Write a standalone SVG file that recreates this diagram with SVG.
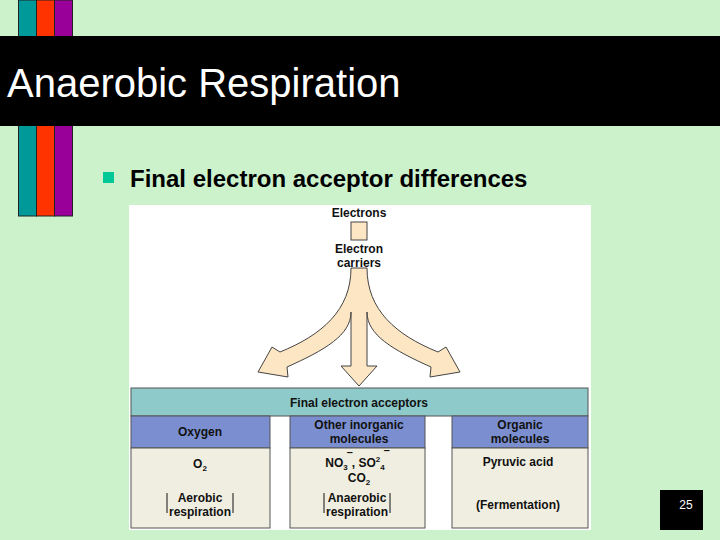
<svg xmlns="http://www.w3.org/2000/svg" width="720" height="540" viewBox="0 0 720 540">
<style>
.b{font-family:"Liberation Sans",Arial,sans-serif;font-weight:bold;font-size:12px;fill:#111;text-anchor:middle}
.arr{fill:#fce6c4;stroke:#444;stroke-width:1}
</style>
<rect width="720" height="540" fill="#ccf2cc"/>
<g id="bars" stroke="#222" stroke-width="1">
<rect x="18.5" y="0" width="18" height="216" fill="#009999"/>
<rect x="36.5" y="0" width="18" height="216" fill="#ff3300"/>
<rect x="54.5" y="0" width="18" height="216" fill="#990099"/>
</g>
<rect x="0" y="36" width="720" height="90" fill="#000"/>
<text x="7" y="97" font-family="'Liberation Sans',Arial,sans-serif" font-size="40" fill="#fff">Anaerobic Respiration</text>
<rect x="103" y="172" width="11" height="11" fill="#00c896"/>
<text x="130" y="187" font-family="'Liberation Sans',Arial,sans-serif" font-weight="bold" font-size="24" fill="#000">Final electron acceptor differences</text>
<rect x="129" y="205" width="462" height="325" fill="#fff"/>
<g id="connectors">
<rect class="arr" x="351" y="222" width="16" height="18"/>
<path class="arr" d="M351,268 C351,310 322,335 280,352 L272,347 L258,372 L288,377 L287,367 C325,350 351,335 351,312 L351,366 L341,366 L359,386 L377,366 L367,366 L367,312 C367,335 393,350 431,367 L430,377 L460,372 L446,347 L438,352 C396,335 367,310 367,268 Z"/>
</g>
<g id="electrons"><text class="b" x="359" y="217">Electrons</text></g>
<g id="carriers"><text class="b" x="359" y="253">Electron</text><text class="b" x="359" y="267">carriers</text></g>
<g id="acceptors">
<rect x="131" y="388" width="457" height="28" fill="#8fcaca" stroke="#555"/>
<text class="b" x="359" y="407">Final electron acceptors</text>
</g>
<g id="col1">
<rect x="131" y="416" width="139" height="32" fill="#7b8fd0" stroke="#555"/>
<rect x="131" y="448" width="139" height="80" fill="#f0eee0" stroke="#555"/>
<text class="b" x="200" y="436">Oxygen</text>
<text class="b" x="200" y="468">O<tspan font-size="8" dy="3">2</tspan></text>
<text class="b" x="200" y="502">Aerobic</text><text class="b" x="200" y="516">respiration</text>
<path d="M167,493 v20 M233,493 v20" stroke="#111" fill="none"/>
</g>
<g id="col2">
<rect x="290" y="416" width="135" height="32" fill="#7b8fd0" stroke="#555"/>
<rect x="290" y="448" width="135" height="80" fill="#f0eee0" stroke="#555"/>
<text class="b" x="359" y="429">Other inorganic</text><text class="b" x="359" y="443">molecules</text>
<text class="b" x="357" y="467">NO<tspan font-size="8" dy="3">3</tspan><tspan dy="-8">‾</tspan><tspan dy="5">, SO</tspan><tspan font-size="8" dy="-5">2</tspan><tspan font-size="8" dy="8">4</tspan><tspan dy="-10">‾</tspan></text>
<text class="b" x="359" y="482">CO<tspan font-size="8" dy="3">2</tspan></text>
<text class="b" x="357" y="502">Anaerobic</text><text class="b" x="357" y="516">respiration</text>
<path d="M324,493 v20 M390,493 v20" stroke="#111" fill="none"/>
</g>
<g id="col3">
<rect x="452" y="416" width="136" height="32" fill="#7b8fd0" stroke="#555"/>
<rect x="452" y="448" width="136" height="80" fill="#f0eee0" stroke="#555"/>
<text class="b" x="520" y="429">Organic</text><text class="b" x="520" y="443">molecules</text>
<text class="b" x="518" y="466">Pyruvic acid</text>
<text class="b" x="518" y="509">(Fermentation)</text>
</g>
<rect x="660" y="490" width="43" height="40" fill="#000"/>
<text x="686" y="509" font-family="'Liberation Sans',Arial,sans-serif" font-size="12" fill="#fff" text-anchor="middle">25</text>
</svg>
